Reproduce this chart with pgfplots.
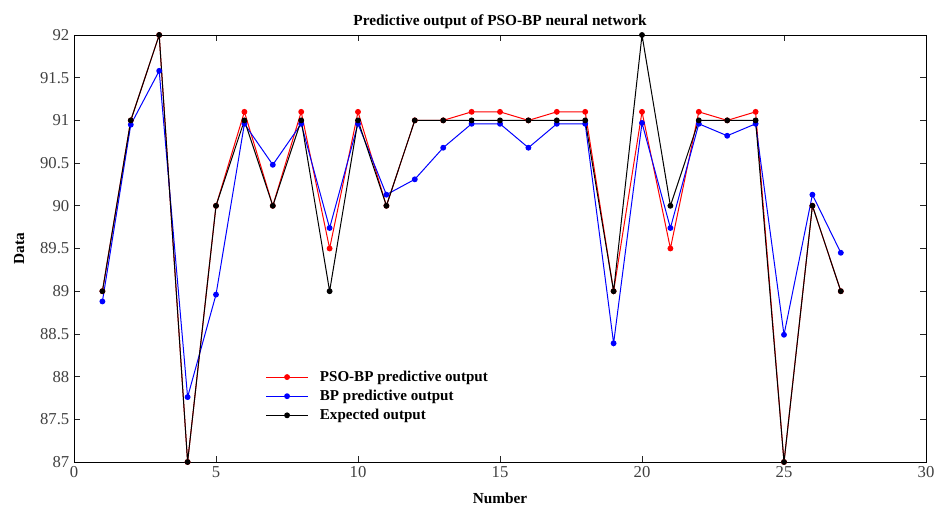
\documentclass[border=0pt]{standalone}
\usepackage{fontspec}
\setmainfont{Liberation Serif}
\usepackage{pgfplots}
\pgfplotsset{compat=1.18}
\begin{document}
\begin{tikzpicture}
\begin{axis}[
  scale only axis,
  width=639pt, height=320.25pt,
  xmin=0, xmax=30, ymin=87, ymax=92,
  xtick={0,5,...,30},
  ytick={87,87.5,...,92},
  yticklabels={87,87.5,88,88.5,89,89.5,90,90.5,91,91.5,92},
  xticklabels={0,5,10,15,20,25,30},
  tick align=inside,
  tick pos=both,
  major tick length=4.5pt,
  axis line style={line width=0.6pt, black},
  tick style={line width=0.5pt, black!85},
  /pgf/number format/assume math mode=true,
  ticklabel style={font=\fontsize{12.5}{14}\selectfont, text=black!75},
  title={\textbf{Predictive output of PSO-BP neural network}},
  title style={font=\fontsize{11.5}{13}\selectfont, yshift=-5pt},
  xlabel={\textbf{Number}},
  ylabel={\textbf{Data}},
  xlabel style={font=\fontsize{11.5}{13}\selectfont, yshift=-4pt},
  ylabel style={font=\fontsize{11.5}{13}\selectfont, yshift=5pt},
  legend style={draw=none, fill=none, at={(0.22,0.225)}, anchor=north west,
    font=\bfseries\fontsize{11.3}{13}\selectfont, row sep=2pt,
    nodes={inner sep=1.5pt}},
  legend cell align=left,
  legend image code/.code={
    \draw[#1, mark repeat=2, mark phase=2] plot coordinates {(0cm,0cm) (0.55cm,0cm) (1.1cm,0cm)};
    \path (1.35cm,0cm);
  },
]
\addplot[red, line width=0.75pt, mark=*, mark size=1.8pt] coordinates {
(1,89) (2,91) (3,92) (4,87) (5,90) (6,91.1) (7,90) (8,91.1) (9,89.5) (10,91.1)
(11,90) (12,91) (13,91) (14,91.1) (15,91.1) (16,91) (17,91.1) (18,91.1) (19,89) (20,91.1)
(21,89.5) (22,91.1) (23,91) (24,91.1) (25,87) (26,90) (27,89)};
\addlegendentry{PSO-BP predictive output}
\addplot[blue, line width=0.75pt, mark=*, mark size=1.8pt] coordinates {
(1,88.88) (2,90.95) (3,91.58) (4,87.76) (5,88.96) (6,90.96) (7,90.48) (8,90.96) (9,89.74) (10,90.96)
(11,90.13) (12,90.31) (13,90.68) (14,90.96) (15,90.96) (16,90.68) (17,90.96) (18,90.96) (19,88.39) (20,90.97)
(21,89.74) (22,90.96) (23,90.82) (24,90.96) (25,88.49) (26,90.13) (27,89.45)};
\addlegendentry{BP predictive output}
\addplot[black, line width=0.75pt, mark=*, mark size=1.8pt] coordinates {
(1,89) (2,91) (3,92) (4,87) (5,90) (6,91) (7,90) (8,91) (9,89) (10,91)
(11,90) (12,91) (13,91) (14,91) (15,91) (16,91) (17,91) (18,91) (19,89) (20,92)
(21,90) (22,91) (23,91) (24,91) (25,87) (26,90) (27,89)};
\addlegendentry{Expected output}
\end{axis}
\pgfresetboundingbox
\path (current axis.south west) ++(-55.5pt,-36pt) rectangle ([shift={(7.5pt,26.25pt)}]current axis.north east);
\end{tikzpicture}
\end{document}
